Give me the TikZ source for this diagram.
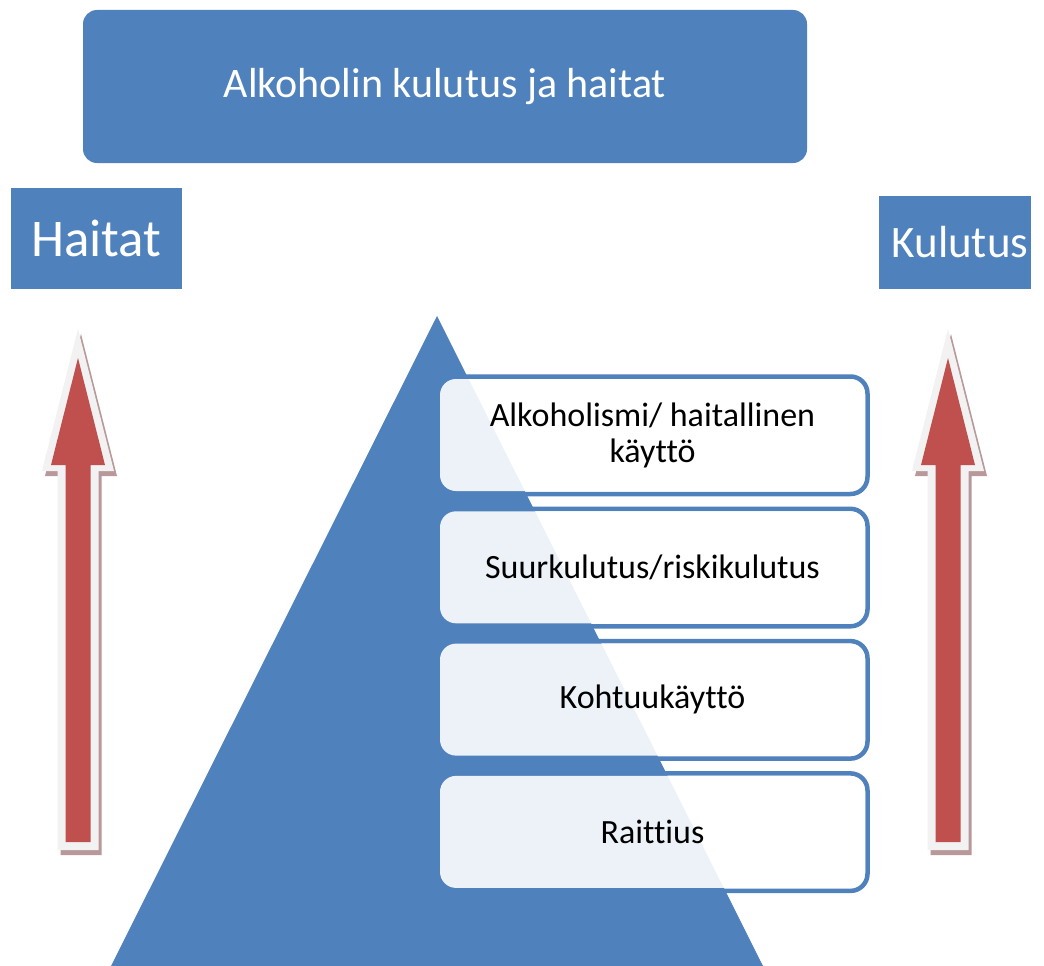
\documentclass[tikz,border=0pt]{standalone}
\usepackage{fontspec}
\setmainfont{Carlito}[Ligatures={NoCommon}]
\definecolor{bl}{HTML}{4F81BD}
\definecolor{rd}{HTML}{C0504D}
\definecolor{ol}{HTML}{F2F2F2}
\definecolor{sh}{HTML}{B8989A}
\tikzset{
  bluebox/.style={fill=bl, inner sep=0pt, text=white},
  levelborder/.style={draw=bl, line width=4.5pt, rounded corners=17pt},
  levelbox/.style={fill=white, fill opacity=0.9, text opacity=1, rounded corners=16pt,
    minimum width=425pt, minimum height=112pt, inner sep=0pt, align=center,
    font=\fontsize{34}{36}\selectfont},
}
\begin{document}
\begin{tikzpicture}[x=1pt,y=-1pt]
\useasboundingbox (0,0) rectangle (1044,966);
\fill[white] (0,0) rectangle (1044,966);
% title
\node[bluebox, rounded corners=14pt, minimum width=724pt, minimum height=153pt,
  font=\fontsize{42}{50}\selectfont] (title) at (445,86.5) {Alkoholin kulutus ja haitat};
\node[bluebox, minimum width=171pt, minimum height=101pt,
  font=\fontsize{53}{60}\selectfont] (haitat) at (96.5,238.5) {Haitat};
\node[bluebox, minimum width=152pt, minimum height=93pt,
  font=\fontsize{45}{50}\selectfont] (kulutus) at (955,242.5) {\hspace*{10pt}Kulutus};
% pyramid
\fill[bl] (437,316) -- (763,966) -- (111,966) -- cycle;
% level boxes
\foreach \i/\name/\txt in {0/l1/{Alkoholismi/ haitallinen\\käyttö},1/l2/{Suurkulutus/riskikulutus},2/l3/{Kohtuukäyttö},3/l4/{Raittius}}{
  \pgfmathsetmacro{\yy}{379+132.3*\i}
  \draw[levelborder] (441.5,\yy-2.5) rectangle (867.5,\yy+115);
  \node[levelbox] (\name) at (652.5,\yy+56) {\txt};
}
% arrows
\foreach \c/\nm in {78/la,948/ra}{
  \fill[sh, shift={(3,5)}] (\c,329) -- (\c+36,471) -- (\c+20.5,471) -- (\c+20.5,850) -- (\c-20.5,850) -- (\c-20.5,471) -- (\c-36,471) -- cycle;
  \fill[ol] (\c,329) -- (\c+36,471) -- (\c+20.5,471) -- (\c+20.5,850) -- (\c-20.5,850) -- (\c-20.5,471) -- (\c-36,471) -- cycle;
  \fill[rd] (\c,358) -- (\c+27,465) -- (\c+12.5,465) -- (\c+12.5,842) -- (\c-12.5,842) -- (\c-12.5,465) -- (\c-27,465) -- cycle;
}
\end{tikzpicture}
\end{document}
